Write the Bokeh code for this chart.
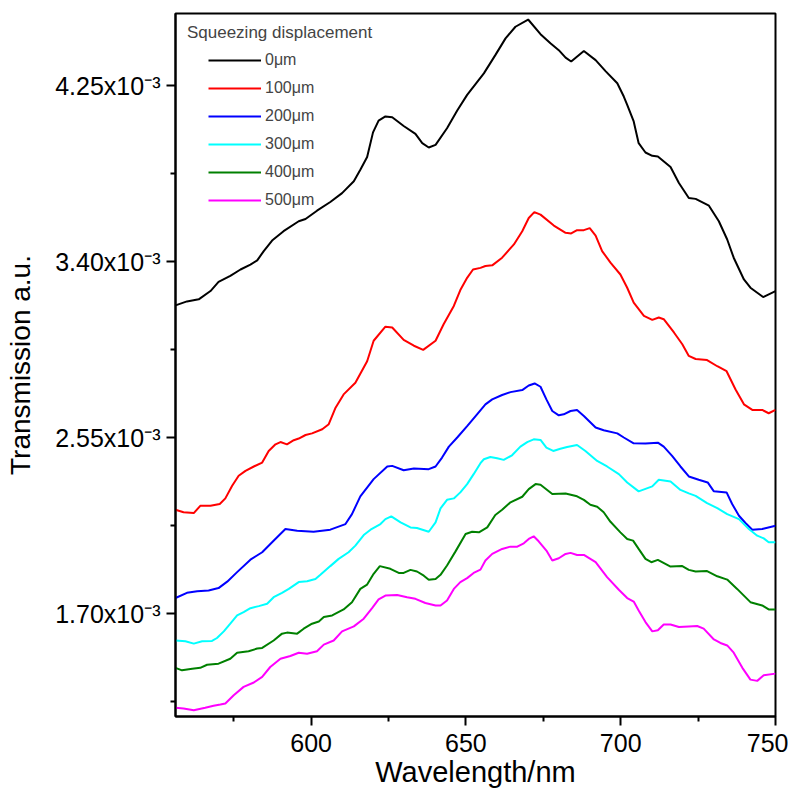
import numpy as np
from bokeh.plotting import figure
from bokeh.models import Range1d, FixedTicker, CustomJSTickFormatter, Label, Legend
from bokeh.embed import file_html
from bokeh.resources import INLINE

# ---- data (wavelength in nm, transmission in units of 1e-3 a.u.) ----
series_names = ["0\u03bcm", "100\u03bcm", "200\u03bcm", "300\u03bcm", "400\u03bcm", "500\u03bcm"]
series_colors = ["#000000", "#FF0000", "#0000FF", "#00FFFF", "#008000", "#FF00FF"]

wl_0 = [556.2, 559.9, 563.7, 567.5, 570.1, 573.9, 577.2, 580.4, 582.6, 584.7, 587.4, 591.1, 596.0, 598.2,
        601.9, 606.2, 610.0, 613.8, 615.9, 618.1, 620.0, 621.8, 624.0, 626.2, 629.9, 633.7, 635.9, 638.0,
        640.2, 643.9, 647.2, 650.4, 655.8, 659.5, 662.8, 666.0, 670.1, 674.1, 677.3, 680.0, 682.2, 684.0,
        688.1, 691.9, 695.1, 698.9, 701.0, 702.1, 704.2, 705.8, 708.0, 710.2, 712.0, 716.1, 718.8, 722.0,
        724.2, 728.5, 731.7, 734.4, 736.5, 739.8, 741.9, 746.0, 750.0]
t_0 = [3.189, 3.208, 3.218, 3.258, 3.302, 3.331, 3.362, 3.386, 3.406, 3.451, 3.502, 3.547, 3.595, 3.606,
       3.646, 3.688, 3.731, 3.788, 3.844, 3.905, 4.024, 4.081, 4.101, 4.097, 4.055, 4.017, 3.972, 3.951,
       3.964, 4.044, 4.130, 4.205, 4.309, 4.397, 4.478, 4.534, 4.569, 4.498, 4.454, 4.421, 4.385, 4.366,
       4.417, 4.373, 4.320, 4.261, 4.197, 4.157, 4.077, 3.972, 3.927, 3.911, 3.908, 3.857, 3.780, 3.707,
       3.703, 3.670, 3.595, 3.507, 3.419, 3.314, 3.274, 3.229, 3.258]

wl_100 = [556.2, 558.8, 562.1, 564.2, 567.5, 570.5, 572.3, 574.5, 576.6, 578.8, 581.5, 584.2, 586.3, 588.5,
          590.1, 592.2, 594.4, 596.0, 598.2, 600.3, 603.6, 605.7, 607.9, 610.5, 614.3, 618.1, 620.2, 624.0,
          626.2, 629.9, 633.2, 636.2, 640.2, 642.8, 646.1, 648.2, 650.4, 652.3, 654.7, 656.3, 658.5, 661.7,
          665.5, 668.2, 670.3, 672.1, 674.1, 678.4, 682.2, 684.0, 685.9, 688.1, 690.0, 691.9, 694.0, 696.7,
          699.9, 702.1, 704.2, 707.5, 710.2, 712.3, 713.9, 717.2, 719.9, 722.0, 724.2, 727.9, 731.2, 734.2,
          737.1, 739.8, 742.5, 745.7, 747.8, 750.0]
t_100 = [2.202, 2.190, 2.186, 2.221, 2.221, 2.230, 2.257, 2.318, 2.366, 2.390, 2.411, 2.430, 2.486, 2.518,
         2.529, 2.518, 2.538, 2.546, 2.563, 2.571, 2.591, 2.615, 2.695, 2.759, 2.815, 2.919, 3.018, 3.086,
         3.082, 3.022, 2.994, 2.974, 3.018, 3.098, 3.186, 3.263, 3.322, 3.362, 3.370, 3.379, 3.382, 3.419,
         3.483, 3.547, 3.611, 3.639, 3.627, 3.574, 3.539, 3.536, 3.552, 3.552, 3.562, 3.526, 3.451, 3.395,
         3.338, 3.274, 3.202, 3.138, 3.119, 3.130, 3.122, 3.058, 3.001, 2.945, 2.930, 2.925, 2.895, 2.871,
         2.783, 2.711, 2.684, 2.684, 2.668, 2.684]

wl_200 = [556.2, 559.9, 563.2, 566.9, 570.1, 572.9, 576.1, 580.4, 584.2, 587.4, 591.7, 595.5, 600.8, 606.2,
          611.1, 613.2, 615.9, 620.2, 624.6, 626.2, 629.9, 633.2, 638.0, 640.2, 642.3, 644.5, 647.2, 650.4,
          653.6, 656.3, 658.5, 661.7, 664.4, 668.2, 670.3, 672.2, 674.1, 676.0, 677.9, 680.0, 681.6, 683.8,
          685.9, 688.1, 691.9, 694.5, 698.9, 701.0, 704.2, 708.0, 712.0, 713.9, 716.6, 719.3, 722.0, 725.2,
          728.1, 730.1, 734.2, 736.0, 738.2, 740.3, 742.5, 745.7, 750.0]
t_200 = [1.776, 1.801, 1.809, 1.812, 1.824, 1.855, 1.901, 1.961, 1.997, 2.045, 2.109, 2.101, 2.096, 2.106,
         2.133, 2.181, 2.267, 2.350, 2.411, 2.414, 2.393, 2.401, 2.398, 2.411, 2.454, 2.507, 2.551, 2.606,
         2.663, 2.711, 2.735, 2.756, 2.770, 2.780, 2.802, 2.812, 2.796, 2.735, 2.679, 2.658, 2.663, 2.679,
         2.684, 2.655, 2.599, 2.586, 2.571, 2.551, 2.523, 2.522, 2.526, 2.507, 2.462, 2.411, 2.363, 2.347,
         2.334, 2.291, 2.286, 2.230, 2.173, 2.138, 2.106, 2.109, 2.125]

wl_300 = [556.2, 559.4, 562.1, 564.8, 568.0, 569.6, 571.8, 573.9, 576.1, 578.2, 580.4, 583.1, 585.8, 587.9,
          590.6, 592.8, 596.0, 598.7, 601.4, 603.0, 606.2, 608.9, 612.1, 614.3, 617.0, 619.2, 622.4, 624.0,
          625.9, 628.9, 632.1, 634.2, 638.0, 640.2, 641.8, 643.9, 646.1, 648.2, 650.4, 652.5, 654.7, 655.8,
          657.9, 660.1, 662.2, 664.9, 667.6, 669.8, 671.9, 674.1, 676.0, 678.2, 680.5, 682.7, 685.9, 688.6,
          692.4, 695.6, 699.4, 702.1, 705.8, 710.2, 712.3, 716.1, 719.3, 722.0, 724.2, 727.9, 731.2, 734.4,
          738.2, 741.4, 744.1, 746.2, 747.8, 750.0]
t_300 = [1.571, 1.567, 1.556, 1.567, 1.569, 1.583, 1.615, 1.652, 1.692, 1.708, 1.727, 1.737, 1.748, 1.780,
         1.801, 1.820, 1.853, 1.857, 1.868, 1.888, 1.930, 1.965, 1.997, 2.029, 2.080, 2.106, 2.133, 2.157,
         2.170, 2.141, 2.117, 2.114, 2.096, 2.141, 2.209, 2.250, 2.257, 2.286, 2.326, 2.374, 2.427, 2.446,
         2.457, 2.451, 2.443, 2.465, 2.507, 2.529, 2.542, 2.539, 2.502, 2.486, 2.497, 2.505, 2.515, 2.486,
         2.438, 2.411, 2.374, 2.334, 2.291, 2.315, 2.347, 2.339, 2.298, 2.281, 2.269, 2.234, 2.210, 2.181,
         2.157, 2.109, 2.077, 2.064, 2.045, 2.045]

wl_400 = [556.2, 558.3, 561.6, 564.2, 566.4, 570.1, 573.9, 576.1, 579.8, 582.6, 584.2, 587.9, 590.6, 592.2,
          595.5, 597.6, 600.3, 602.5, 604.1, 606.8, 610.5, 613.2, 615.9, 618.1, 620.2, 622.2, 625.6, 628.3,
          629.9, 632.1, 634.2, 636.4, 638.0, 640.2, 641.8, 643.9, 646.6, 649.9, 652.0, 654.2, 656.9, 659.5,
          661.7, 664.4, 668.2, 670.3, 672.5, 674.1, 677.9, 682.2, 685.9, 688.1, 690.2, 692.4, 694.5, 696.7,
          699.9, 702.1, 704.0, 705.8, 708.0, 709.9, 712.0, 716.1, 719.9, 722.0, 724.2, 727.9, 731.2, 734.4,
          737.6, 741.9, 745.7, 747.8, 750.0]
t_400 = [1.439, 1.427, 1.435, 1.439, 1.454, 1.459, 1.483, 1.512, 1.519, 1.532, 1.535, 1.571, 1.604, 1.609,
         1.604, 1.628, 1.652, 1.663, 1.684, 1.692, 1.721, 1.756, 1.820, 1.841, 1.893, 1.930, 1.917, 1.897,
         1.897, 1.912, 1.904, 1.884, 1.864, 1.868, 1.888, 1.933, 2.000, 2.085, 2.096, 2.093, 2.117, 2.177,
         2.202, 2.238, 2.265, 2.302, 2.326, 2.323, 2.278, 2.281, 2.267, 2.250, 2.226, 2.217, 2.190, 2.144,
         2.093, 2.061, 2.053, 2.013, 1.965, 1.949, 1.960, 1.928, 1.930, 1.912, 1.904, 1.906, 1.881, 1.865,
         1.820, 1.756, 1.740, 1.721, 1.721]

wl_500 = [556.2, 558.8, 562.1, 565.8, 568.5, 570.7, 572.3, 575.0, 578.2, 581.5, 584.2, 586.8, 590.1, 593.3,
          596.0, 598.7, 601.9, 604.1, 607.3, 610.0, 613.8, 617.0, 619.7, 621.8, 624.0, 627.8, 631.0, 633.7,
          636.9, 640.2, 641.8, 643.9, 646.1, 648.2, 650.4, 652.5, 654.7, 656.3, 658.5, 661.7, 664.4, 666.6,
          668.7, 670.3, 671.9, 673.5, 676.0, 677.9, 680.0, 682.2, 683.8, 685.9, 688.1, 691.9, 695.6, 699.4,
          702.1, 704.2, 705.8, 708.0, 710.2, 712.0, 713.9, 716.1, 718.8, 722.0, 724.7, 726.8, 730.1, 732.2,
          734.4, 736.5, 739.3, 741.9, 744.1, 746.2, 750.0]
t_500 = [1.246, 1.243, 1.234, 1.246, 1.256, 1.262, 1.267, 1.307, 1.347, 1.368, 1.395, 1.443, 1.483, 1.496,
         1.512, 1.507, 1.519, 1.551, 1.571, 1.615, 1.639, 1.676, 1.727, 1.769, 1.788, 1.791, 1.780, 1.772,
         1.752, 1.740, 1.740, 1.764, 1.820, 1.853, 1.872, 1.897, 1.913, 1.957, 1.989, 2.013, 2.024, 2.024,
         2.040, 2.061, 2.074, 2.050, 2.005, 1.957, 1.968, 1.989, 1.994, 1.984, 1.984, 1.949, 1.877, 1.816,
         1.776, 1.759, 1.716, 1.660, 1.615, 1.620, 1.648, 1.648, 1.636, 1.639, 1.641, 1.628, 1.576, 1.559,
         1.547, 1.512, 1.439, 1.382, 1.376, 1.403, 1.411]

x_ticks = [600, 650, 700, 750]
x_minor = [575, 625, 675, 725]
y_ticks = [1.70e-3, 2.55e-3, 3.40e-3, 4.25e-3]
y_minor = [1.275e-3, 2.125e-3, 2.975e-3, 3.825e-3]

wls = [wl_0, wl_100, wl_200, wl_300, wl_400, wl_500]
ts = [t_0, t_100, t_200, t_300, t_400, t_500]

FONT = "Liberation Sans"

p = figure(width=788, height=790, output_backend="svg", toolbar_location=None, title=None,
           x_range=Range1d(556.2, 750.0), y_range=Range1d(1.204e-3, 4.598e-3),
           min_border_left=175, min_border_right=13, min_border_top=13, min_border_bottom=72)
p.grid.visible = False
p.background_fill_color = "white"
p.outline_line_color = "black"
p.outline_line_width = 2
p.outline_line_alpha = 1.0

items = []
for name, col, wl, t in zip(series_names, series_colors, wls, ts):
    r = p.line(wl, np.array(t) * 1e-3, line_color=col, line_width=2)
    items.append((name, [r]))

legend = Legend(items=items, location="top_left", margin=0, padding=33, spacing=0,
                glyph_width=53, glyph_height=28, label_height=28, label_standoff=4,
                label_text_font_size="16px", label_text_font=FONT,
                background_fill_alpha=0, border_line_alpha=0)
p.add_layout(legend)

p.add_layout(Label(x=559.9, y=4.507e-3, text="Squeezing displacement", text_font=FONT,
                   text_font_size="17px", text_baseline="middle", text_align="left"))

# axes
p.xaxis.ticker = FixedTicker(ticks=x_ticks, minor_ticks=x_minor)
p.yaxis.ticker = FixedTicker(ticks=y_ticks, minor_ticks=y_minor)
p.yaxis.formatter = CustomJSTickFormatter(code="return (tick*1000).toFixed(2) + 'x10\\u207b\\u00b3';")

for ax in (p.xaxis[0], p.yaxis[0]):
    ax.axis_line_width = 2
    ax.axis_line_color = "black"
    ax.major_tick_line_width = 2
    ax.minor_tick_line_width = 2
    ax.major_tick_out = 9
    ax.major_tick_in = 0
    ax.minor_tick_out = 5
    ax.minor_tick_in = 0
    ax.major_label_text_font = FONT
    ax.major_label_text_color = "black"
    ax.axis_label_text_font = FONT
    ax.axis_label_text_font_style = "normal"
    ax.axis_label_text_color = "black"

p.xaxis.axis_label = "Wavelength/nm"
p.yaxis.axis_label = "Transmission a.u."
p.xaxis.major_label_text_font_size = "25px"
p.yaxis.major_label_text_font_size = "25px"
p.xaxis.axis_label_text_font_size = "29px"
p.yaxis.axis_label_text_font_size = "28px"
p.xaxis.major_label_standoff = 8
p.xaxis.axis_label_standoff = 1
p.yaxis.major_label_standoff = 6
p.yaxis.axis_label_standoff = 16

open("out.html", "w", encoding="utf-8").write(file_html(p, INLINE))
